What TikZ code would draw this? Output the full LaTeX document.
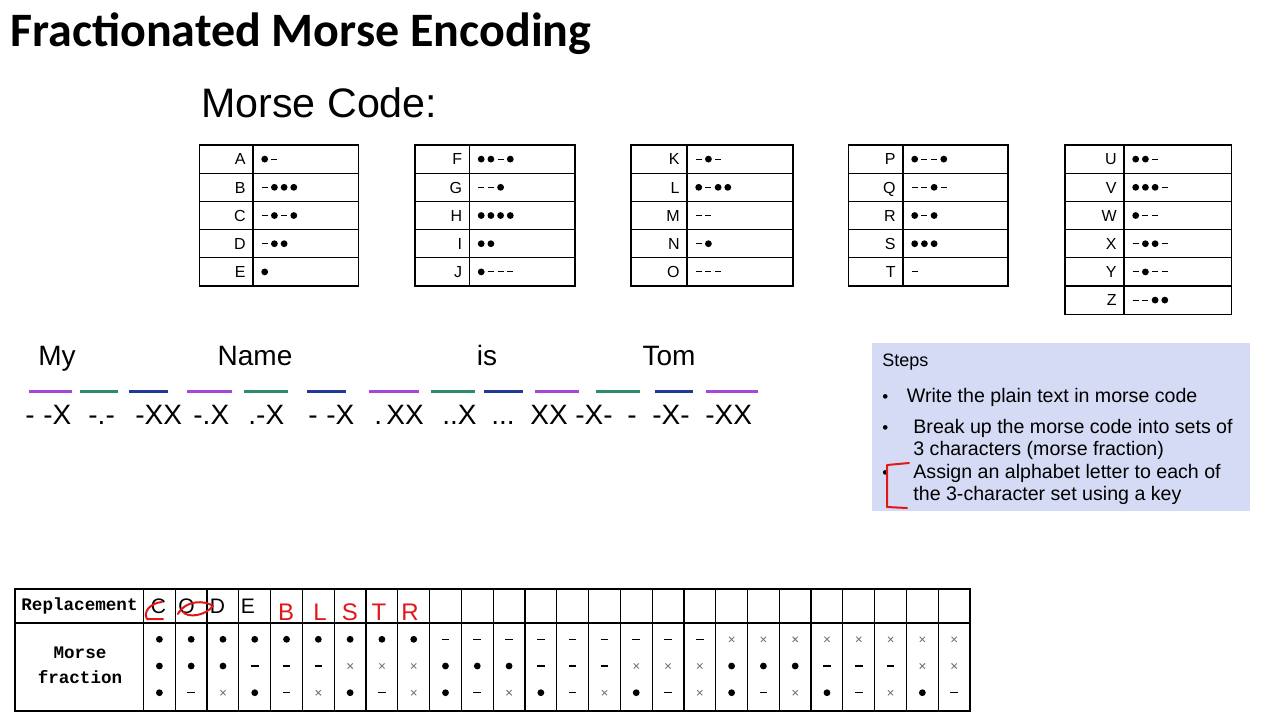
\documentclass[tikz,border=0pt]{standalone}
\usepackage{fontspec}
\setmainfont{Liberation Sans}
\newfontfamily\headfont{Carlito}
\newfontfamily\codefont{Liberation Mono}
\usetikzlibrary{positioning,calc}
\definecolor{BarPurple}{RGB}{166,72,212}
\definecolor{BarGreen}{RGB}{42,140,104}
\definecolor{BarBlue}{RGB}{32,56,150}
\definecolor{StepsBg}{RGB}{213,219,245}
\definecolor{InkRed}{RGB}{226,22,22}
\definecolor{CrossGray}{RGB}{120,120,120}
\tikzset{
  grid/.style={draw=black,line width=0.6pt},
  dashsym/.style={line width=0.75pt},
  mletter/.style={inner sep=0pt,font=\fontsize{8pt}{9pt}\selectfont,anchor=base east},
  word/.style={inner sep=0pt,font=\fontsize{14pt}{16pt}\selectfont,anchor=base},
  mtext/.style={inner sep=0pt,font=\fontsize{14pt}{16pt}\selectfont,anchor=base west},
  bar/.style={line width=1.5pt},
  stepitem/.style={inner sep=0pt,font=\fontsize{9.8pt}{11.15pt}\selectfont,anchor=base west},
  tabhead/.style={inner sep=0pt,font=\codefont\bfseries\fontsize{8.8pt}{10pt}\selectfont,anchor=base},
  repl/.style={inner sep=0pt,font=\fontsize{10.5pt}{12pt}\selectfont,anchor=base},
  inkletter/.style={inner sep=0pt,text=InkRed,font=\fontsize{12pt}{14pt}\selectfont,anchor=base},
  ink/.style={draw=InkRed,line width=1pt,line cap=round,line join=round},
}
% 0 = dot, 1 = dash, 2 = cross
\newcommand\msym[3]{%
  \begin{scope}[shift={(#1,#2)}]
    \ifnum#3=0 \fill (0,0) circle (1.7pt);
    \else\ifnum#3=1 \draw[dashsym] (-3.8,0) -- (3.8,0);
    \else \draw[CrossGray,line width=0.45pt] (-2.6,-2.6) -- (2.6,2.6) (-2.6,2.6) -- (2.6,-2.6);
    \fi\fi
  \end{scope}}
\newcommand\mrow[4]{%
  \node[mletter] (key#3) at (#1-7,145+28.2*#2-8.4) {#3};
  \begin{scope}[dashsym/.style={line width=0.5pt,shorten <=0.4pt,shorten >=0.4pt}]
    \foreach \s [count=\k] in {#4}{\msym{#1+2+9.7*\k}{145+28.2*#2-14.1}{\s}}
  \end{scope}}

\begin{document}
\begin{tikzpicture}[x=0.5pt,y=-0.5pt]
\useasboundingbox (0,0) rectangle (1280,720);
\node[anchor=base west,inner sep=0pt,font=\headfont\bfseries\fontsize{24pt}{29pt}\selectfont] (title) at (10,46) {Fractionated Morse Encoding};
\node[anchor=base west,inner sep=0pt,font=\fontsize{20.6pt}{24pt}\selectfont] (mchead) at (201,117) {Morse Code:};

\foreach \l/\d/\r/\n in {199.5/253/358.5/5,415/469.5/575/5,631/687/793/5,848.5/903/1008/5,1065/1124/1231.5/6}{
  \draw[grid] (\l,145) rectangle (\r,145+28.2*\n);
  \draw[grid] (\d,145) -- (\d,145+28.2*\n);
  \foreach \j in {1,...,\n}
    \draw[grid] (\l,145+28.2*\j) -- (\r,145+28.2*\j);
}
\mrow{253}{1}{A}{0,1}
\mrow{253}{2}{B}{1,0,0,0}
\mrow{253}{3}{C}{1,0,1,0}
\mrow{253}{4}{D}{1,0,0}
\mrow{253}{5}{E}{0}
\mrow{469.5}{1}{F}{0,0,1,0}
\mrow{469.5}{2}{G}{1,1,0}
\mrow{469.5}{3}{H}{0,0,0,0}
\mrow{469.5}{4}{I}{0,0}
\mrow{469.5}{5}{J}{0,1,1,1}
\mrow{687}{1}{K}{1,0,1}
\mrow{687}{2}{L}{0,1,0,0}
\mrow{687}{3}{M}{1,1}
\mrow{687}{4}{N}{1,0}
\mrow{687}{5}{O}{1,1,1}
\mrow{903}{1}{P}{0,1,1,0}
\mrow{903}{2}{Q}{1,1,0,1}
\mrow{903}{3}{R}{0,1,0}
\mrow{903}{4}{S}{0,0,0}
\mrow{903}{5}{T}{1}
\mrow{1124}{1}{U}{0,0,1}
\mrow{1124}{2}{V}{0,0,0,1}
\mrow{1124}{3}{W}{0,1,1}
\mrow{1124}{4}{X}{1,0,0,1}
\mrow{1124}{5}{Y}{1,0,1,1}
\mrow{1124}{6}{Z}{1,1,0,0}

\node[word] (wMy) at (57,365) {My};
\node[word] (wName) at (255,365) {Name};
\node[word] (wis) at (487,365) {is};
\node[word] (wTom) at (669,365) {Tom};
\foreach \a/\b/\col in {29/72/BarPurple,80/118/BarGreen,129/168/BarBlue,187/232/BarPurple,244/288/BarGreen,307/346/BarBlue,
  369/419/BarPurple,431/475/BarGreen,484/523/BarBlue,535/579/BarPurple,596/640/BarGreen,655/693/BarBlue,706/758/BarPurple}
  \draw[bar,\col] (\a,391) -- (\b,391);
\foreach \x/\txt [count=\i] in {25/{-},43/{-X},88/{-.-},135/{-XX},193/{-.X},248/{.-X},308/{-},326/{-X},374/{.},386/{XX},
  442/{..X},491/{...},530/{XX},575/{-X-},627/{-},652/{-X-},705/{-XX}}
  \node[mtext] (ml\i) at (\x,424) {\txt};

\fill[StepsBg] (872,343) rectangle (1250,511);
\node[stepitem,font=\fontsize{9pt}{11pt}\selectfont] (steps) at (882,366) {Steps};
\foreach \y in {402,433,478}
  \node[stepitem,font=\fontsize{8.5pt}{10pt}\selectfont] (dot\y) at (882,\y) {•};
\node[stepitem] (st1) at (906.5,402) {Write the plain text in morse code};
\node[stepitem] (st2a) at (913,433) {Break up the morse code into sets of};
\node[stepitem] (st2b) at (913,455) {3 characters (morse fraction)};
\node[stepitem] (st3a) at (913,478) {Assign an alphabet letter to each of};
\node[stepitem] (st3b) at (913,500) {the 3-character set using a key};
\draw[ink] (909,463) -- (887,465) -- (887,507) -- (907,508);

\draw[grid] (15,589) rectangle (970,711);
\draw[grid] (15,623) -- (970,623);
\foreach \col in {0,...,26}
  \draw[grid] (143.5+31.79*\col,589) -- (143.5+31.79*\col,711);
\node[tabhead] (repl) at (79.5,610) {Replacement};
\node[tabhead] (fracA) at (80,658) {Morse};
\node[tabhead] (fracB) at (80,683) {fraction};
\foreach \col in {1,...,26}{
  \pgfmathtruncatemacro\ra{(\col-1)/9}
  \pgfmathtruncatemacro\q{(\col-1)/3}
  \pgfmathtruncatemacro\rb{mod(\q,3)}
  \pgfmathtruncatemacro\rc{mod(\col-1,3)}
  \msym{143.5+31.79*\col-15.9}{639.3}{\ra}
  \msym{143.5+31.79*\col-15.9}{666}{\rb}
  \msym{143.5+31.79*\col-15.9}{692.7}{\rc}
}
\foreach \x/\txt in {158.5/C,186.5/O,217.5/D,248/E}
  \node[repl] (r\txt) at (\x,613) {\txt};
\foreach \x/\txt in {286/B,320/L,350/S,379/T,410/R}
  \node[inkletter] (h\txt) at (\x,620) {\txt};
\draw[ink] (162,602) .. controls (150,603) and (143,612) .. (147,619) -- (163,619);
\draw[ink] (178,614) .. controls (185,600) and (205,600) .. (213,606) .. controls (205,616) and (188,618) .. (183,612);
\end{tikzpicture}
\end{document}
